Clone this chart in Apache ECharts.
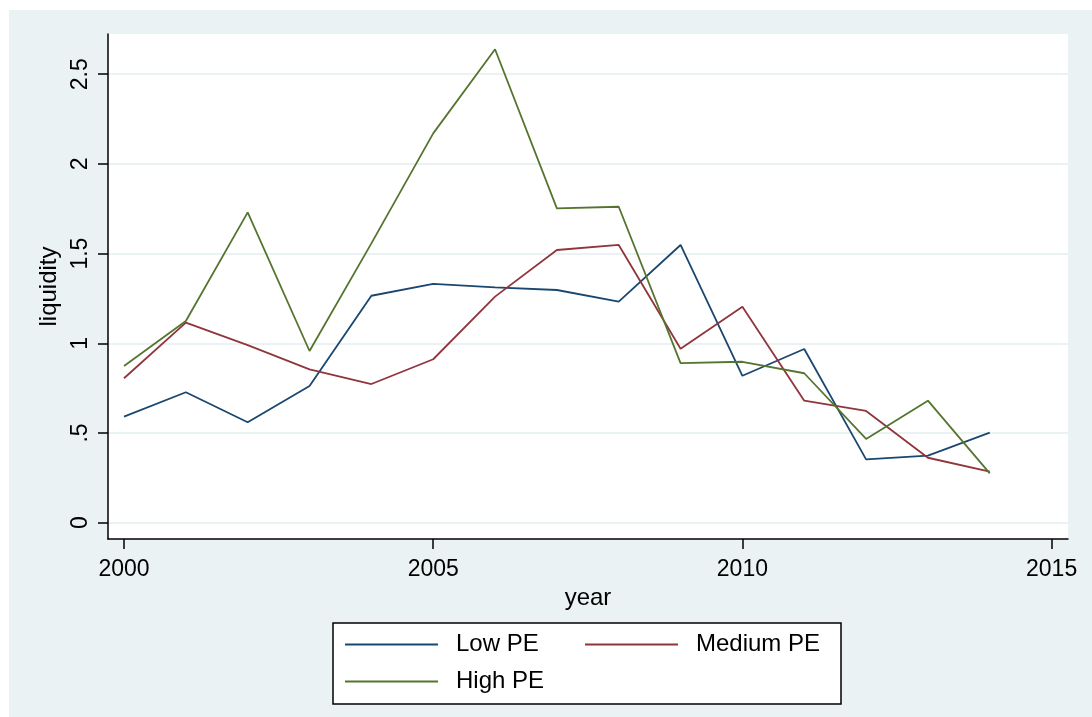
<!DOCTYPE html>
<html>
<head>
<meta charset="utf-8">
<script src="https://cdn.jsdelivr.net/npm/echarts@6/dist/echarts.min.js"></script>
<style>
  html, body { margin: 0; padding: 0; background: #fff; }
  #main { position: absolute; left: 9px; top: 10px; width: 1083px; height: 707px; background: #eaf2f3; }
</style>
</head>
<body>
<div id="main"></div>
<script>
    // data
    var years = [2000, 2001, 2002, 2003, 2004, 2005, 2006, 2007, 2008, 2009, 2010, 2011, 2012, 2013, 2014];
    var lowPE = [0.591, 0.727, 0.560, 0.762, 1.265, 1.331, 1.312, 1.297, 1.232, 1.548, 0.819, 0.968, 0.353, 0.374, 0.502];
    var mediumPE = [0.805, 1.115, 0.990, 0.855, 0.773, 0.911, 1.260, 1.520, 1.548, 0.970, 1.204, 0.680, 0.623, 0.362, 0.284];
    var highPE = [0.873, 1.124, 1.730, 0.957, 1.557, 2.170, 2.639, 1.752, 1.761, 0.889, 0.897, 0.833, 0.467, 0.680, 0.275];
    var xTicks = [2000, 2005, 2010, 2015];
    var yTicks = [0, 0.5, 1, 1.5, 2, 2.5];
    var yTickLabels = ['0', '.5', '1', '1.5', '2', '2.5'];

    var font = 'Liberation Sans, Arial, sans-serif';

    function pairs(vals) {
        var out = [];
        for (var i = 0; i < years.length; i++) {
            out.push([years[i], vals[i]]);
        }
        return out;
    }

    function lineSeries(name, vals, color) {
        return {
            name: name,
            type: 'line',
            data: pairs(vals),
            symbol: 'none',
            lineStyle: { color: color, width: 1.8 },
            itemStyle: { color: color },
            animation: false
        };
    }

    var myChart = echarts.init(document.getElementById('main'));
    var option = {
        backgroundColor: 'transparent',
        textStyle: { fontFamily: font },
        grid: {
            left: 99, top: 24, width: 960, height: 505,
            show: true, backgroundColor: '#fff', borderWidth: 0
        },
        xAxis: {
            type: 'value',
            min: 1999.741,
            max: 2015.265,
            name: 'year',
            nameLocation: 'middle',
            nameGap: 44,
            nameTextStyle: { fontSize: 24, color: '#000', fontFamily: font },
            axisLine: { show: true, onZero: false, lineStyle: { color: '#000', width: 1.5 } },
            axisTick: { show: true, length: 10, customValues: xTicks, lineStyle: { color: '#000', width: 1.5 } },
            axisLabel: {
                customValues: xTicks, margin: 19, fontSize: 23, color: '#000', fontFamily: font,
                formatter: function (v) { return String(v); }
            },
            splitLine: { show: false }
        },
        yAxis: {
            type: 'value',
            min: -0.0909,
            max: 2.724,
            name: 'liquidity',
            nameLocation: 'middle',
            nameGap: 45,
            nameTextStyle: { fontSize: 24, color: '#000', fontFamily: font },
            axisLine: { show: true, onZero: false, lineStyle: { color: '#000', width: 1.5 } },
            axisTick: { show: true, length: 10, customValues: yTicks, lineStyle: { color: '#000', width: 1.5 } },
            axisLabel: {
                customValues: yTicks,
                rotate: 90,
                margin: 16,
                fontSize: 23,
                color: '#000',
                fontFamily: font,
                formatter: function (v) {
                    var i = yTicks.indexOf(v);
                    return i >= 0 ? yTickLabels[i] : '';
                }
            },
            splitLine: { show: true, lineStyle: { color: '#eaf2f3', width: 2 } }
        },
        legend: {
            left: 324,
            top: 613,
            width: 500,
            orient: 'horizontal',
            padding: [4, 19, 5, 11],
            itemGap: 2,
            itemWidth: 93,
            itemHeight: 14,
            itemStyle: { opacity: 0 },
            backgroundColor: '#fff',
            borderColor: '#000',
            borderWidth: 1.5,
            borderRadius: 0,
            textStyle: {
                fontSize: 24,
                color: '#000',
                fontFamily: font,
                width: 126,
                lineHeight: 35,
                padding: [0, 0, 0, 13]
            },
            data: ['Low PE', 'Medium PE', 'High PE']
        },
        series: [
            lineSeries('Low PE', lowPE, '#1a476f'),
            lineSeries('Medium PE', mediumPE, '#90353b'),
            lineSeries('High PE', highPE, '#55752f')
        ]
    };
    myChart.setOption(option);
</script>
</body>
</html>
